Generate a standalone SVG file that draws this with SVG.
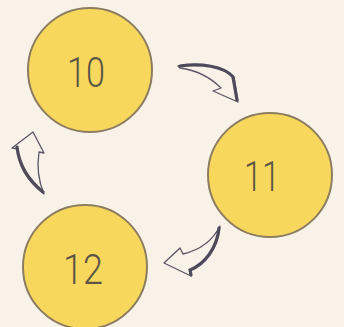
<svg xmlns="http://www.w3.org/2000/svg" width="344" height="327" viewBox="0 0 344 327">
<style>
.c{fill:#f8d85c;stroke:#8c7d60;stroke-width:2}
.t{font-family:Roboto,"Liberation Sans",Arial,sans-serif;font-weight:300;font-size:42px;fill:#5c5446;text-anchor:middle}
.a{fill:#f8f2e8;stroke:#5a5666;stroke-width:1.3;stroke-linejoin:round}
.e{fill:none;stroke:#4e4a5c;stroke-width:3.2;stroke-linecap:round}
</style>
<rect width="344" height="327" fill="#f8f2e8"/>
<g id="node-10"><circle class="c" cx="90" cy="70" r="62"/><text class="t" x="86" y="87" textLength="38" lengthAdjust="spacingAndGlyphs">10</text></g>
<g id="node-11"><circle class="c" cx="270" cy="175" r="62"/><text class="t" x="262" y="191" textLength="36" lengthAdjust="spacingAndGlyphs">11</text></g>
<g id="node-12"><circle class="c" cx="85" cy="267" r="62"/><text class="t" x="83" y="284" textLength="40" lengthAdjust="spacingAndGlyphs">12</text></g>
<g id="connectors">
<path class="a" d="M178,66 C200,62 225,66 234,77 L238,102 L213,91 L221,88 C210,77 195,70 180,68 Z"/>
<path class="e" d="M180,66 C200,63 224,66 233,77 L237,100"/>
<path class="a" d="M44,194 C26,180 18,165 18,149 L12,148 L33,132 L44,153 L39,152 C37,165 38,180 44,194 Z"/>
<path class="e" d="M43,192 C27,179 19,165 17,147"/>
<path class="a" d="M220,226 C218,248 205,265 190,270 L191,276 L164,263 L180,248 L183,254 C200,250 213,240 220,226 Z"/>
<path class="e" d="M219,228 C217,248 205,264 190,270 L191,275"/>
</g>
</svg>
